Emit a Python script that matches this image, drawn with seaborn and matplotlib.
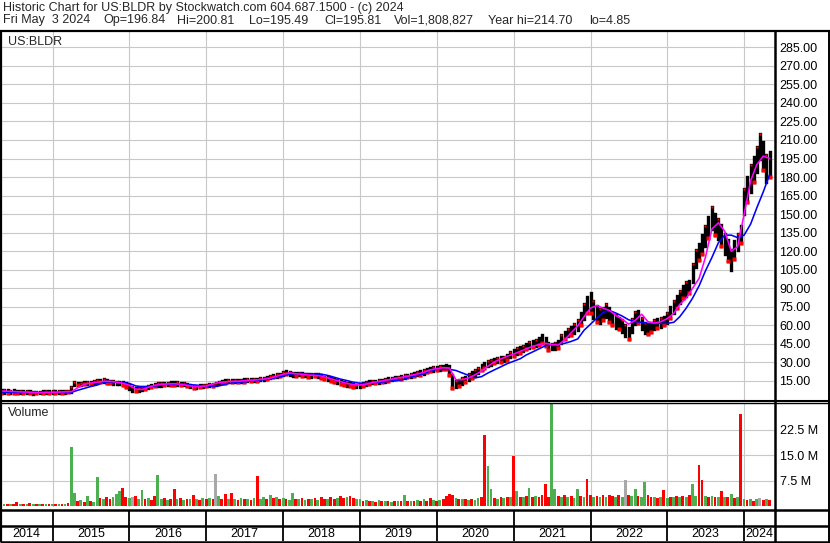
import numpy as np
import pandas as pd
import matplotlib
matplotlib.use("Agg")
import matplotlib.pyplot as plt
from matplotlib.lines import Line2D
import seaborn as sns

# ---------------- data ----------------
# semi-monthly price ranges (1st and 15th of each month, May 2014 .. May 2024)
lo_2014 = [5.6,5.5,5.6,5.4,5.5,5.3,5.2,5.1,5.0,4.9,4.85,4.9,5.0,5.1,5.1,5.2]
hi_2014 = [7.6,7.5,7.3,7.2,7.4,7.1,6.9,6.8,6.7,6.5,6.3,6.2,6.3,6.6,6.6,6.7]
lo_2015 = [5.3,5.4,5.4,5.5,5.6,5.7,6.0,11.5,11.8,12.0,12.2,12.5,12.8,13.0,13.6,14.0,14.3,13.5,13.0,12.8,12.8,12.5,11.5,10.0]
hi_2015 = [6.7,6.8,6.9,6.9,7.1,7.2,10.0,14.2,13.6,13.5,13.8,14.0,14.5,15.0,15.5,16.0,16.5,15.8,15.0,14.6,14.5,14.3,14.0,13.0]
lo_2016 = [8.5,7.2,6.5,6.8,7.5,8.5,9.0,10.0,10.8,11.2,11.3,11.5,11.6,11.8,12.0,12.0,11.8,11.5,10.8,9.8,9.5,9.6,10.0,10.3]
hi_2016 = [11.5,10.0,9.0,9.0,9.8,10.5,11.0,11.8,12.5,13.0,13.2,13.3,13.5,13.8,14.0,13.8,13.5,13.2,12.5,11.5,11.2,11.3,11.6,11.8]
lo_2017 = [10.6,10.8,11.0,11.5,12.5,13.2,13.6,13.8,14.0,14.2,14.0,14.3,14.5,14.6,14.8,15.0,15.2,15.5,16.0,16.8,17.5,18.0,18.5,19.0]
hi_2017 = [12.0,12.2,12.5,13.5,14.5,15.2,15.6,15.8,15.8,15.9,15.8,16.0,16.2,16.3,16.5,16.6,16.8,17.2,17.8,18.6,19.4,20.0,20.5,21.0]
lo_2018 = [20.0,20.5,19.8,19.2,19.0,19.5,19.2,18.8,18.5,18.5,18.8,18.2,17.0,16.5,15.8,15.0,14.2,13.5,12.5,11.8,11.2,10.6,10.2,9.8]
hi_2018 = [22.5,23.0,22.3,21.6,21.2,21.5,21.2,20.8,20.5,20.6,20.8,20.3,19.5,18.5,18.0,17.2,16.5,15.8,14.8,14.0,13.5,13.0,12.5,12.0]
lo_2019 = [10.2,11.0,12.0,12.5,13.0,13.2,13.6,14.0,14.5,15.2,15.8,16.2,16.5,16.8,17.5,18.0,18.6,19.0,19.5,20.2,21.0,22.0,22.8,23.3]
hi_2019 = [12.6,13.5,14.5,14.8,15.0,15.3,15.7,16.0,16.5,17.2,17.8,18.2,18.5,19.0,19.6,20.2,21.0,21.5,22.0,22.8,24.0,25.0,25.5,26.0]
lo_2020 = [23.5,24.0,24.5,25.0,20.0,9.5,10.0,11.0,12.5,14.0,16.0,17.5,19.0,21.5,24.0,25.5,27.0,28.0,29.5,30.0,30.5,31.0,32.0,34.0]
hi_2020 = [26.5,27.0,27.5,28.0,27.5,20.0,15.0,16.0,17.0,18.5,20.5,22.0,23.5,25.5,28.0,29.5,31.0,32.0,33.0,33.5,34.0,34.5,36.0,38.5]
lo_2021 = [35.5,37.0,38.0,39.0,40.5,41.5,42.5,43.5,44.5,45.5,43.0,40.0,40.5,41.0,42.0,46.0,49.0,51.0,52.5,54.0,56.0,60.0,65.0,70.0]
hi_2021 = [40.0,41.5,42.5,43.5,45.0,46.5,47.5,48.5,50.0,52.0,50.0,45.5,45.0,45.5,47.5,52.0,55.0,57.0,59.0,61.0,64.0,70.0,77.0,83.0]
lo_2022 = [70,66,63,62,64,67,63,60,58,57,55,51,49,55,61,62,57,54,53,55,57,58,59,60]
hi_2022 = [86,80,76,73,74,77,74,70,68,66,64,60,58,65,71,72,66,62,60,62,64,65,66,67]
lo_2023 = [62,66,70,74,78,82,84,86,95,107,113,118,124,131,138,133,130,124,118,112,105,114,121,127]
hi_2023 = [70,75,80,84,88,92,95,96,110,121,126,133,140,148,156,150,146,141,134,129,121,128,134,140]
lo_2024 = [150,160,168,176,184,195,186,176,180]
hi_2024 = [170,180,190,196,204,214.7,208,198,200]

price_lo = (lo_2014 + lo_2015 + lo_2016 + lo_2017 + lo_2018 + lo_2019
            + lo_2020 + lo_2021 + lo_2022 + lo_2023 + lo_2024)
price_hi = (hi_2014 + hi_2015 + hi_2016 + hi_2017 + hi_2018 + hi_2019
            + hi_2020 + hi_2021 + hi_2022 + hi_2023 + hi_2024)

# monthly moving-average lines (magenta = short, blue = long), May 2014 .. May 2024
ma_fast = [6.8,6.7,6.5,6.2,6.0,5.7,5.5,5.6,5.8,6.0,6.2,6.4,
           9.5,12.3,13.3,14.0,14.8,14.8,14.0,13.2,11.5,8.5,8.0,10.0,
           11.5,12.3,12.6,12.8,12.3,11.5,10.6,10.6,11.0,12.5,13.8,14.3,
           14.6,14.8,15.2,15.6,16.0,16.5,17.3,18.8,20.5,21.5,20.8,20.5,
           19.8,19.5,19.0,17.5,16.0,14.5,13.0,12.0,11.7,12.5,13.7,14.5,
           15.5,16.5,17.5,18.4,19.5,20.7,22.0,24.0,25.0,25.8,25.5,16.0,
           16.0,17.5,20.0,23.0,27.0,30.5,32.8,35.0,36.8,39.0,41.0,43.0,
           44.5,45.5,44.5,44.0,48.5,54.0,59.5,67.0,74.0,76.0,74.0,72.0,
           68.0,65.0,61.0,64.0,69.0,63.0,61.8,63.0,65.5,69.7,77.0,82.0,
           90.0,98.0,115.0,138.0,143.0,136.0,120.0,123.6,150.0,177.0,190.0,197.0,195.0]
ma_slow = [6.0,5.9,5.8,5.7,5.6,5.5,5.5,5.5,5.5,5.6,5.7,5.8,
           7.5,9.0,10.5,11.7,14.0,14.3,14.0,13.8,13.0,11.0,10.4,10.4,
           10.8,11.8,12.3,12.3,12.3,12.2,11.8,11.3,11.0,10.9,11.0,12.3,
           13.5,14.0,14.3,15.0,15.6,16.0,16.8,17.8,19.0,20.5,21.0,21.0,
           20.8,20.6,20.5,19.5,18.0,16.5,15.3,14.0,13.2,13.0,13.3,13.8,
           14.4,15.0,15.5,16.5,18.4,19.5,21.0,23.0,24.4,24.4,24.4,23.5,
           21.5,19.5,17.5,18.5,21.5,24.0,26.5,29.0,31.0,33.0,36.0,38.5,
           41.0,43.5,44.5,45.0,45.5,47.0,49.0,56.0,61.0,66.0,70.5,72.0,
           70.0,67.5,64.5,63.0,62.5,61.6,61.6,61.6,61.6,62.5,67.0,74.0,
           82.0,92.0,104.0,115.0,127.0,133.0,133.0,131.0,133.0,142.0,155.0,168.0,182.0]

# semi-monthly volume (millions) and bar direction (r = down, g = up, x = unchanged)
vol_2014 = [0.6,0.5,0.7,0.5,0.6,1.2,0.5,0.6,0.7,0.9,0.6,0.7,0.5,0.6,0.5,0.6]
vol_2015 = [0.5,0.6,0.5,0.7,0.6,0.9,17.4,4.0,1.5,1.8,1.2,3.0,1.5,1.3,8.7,2.5,2.0,2.8,2.2,2.6,3.5,4.4,5.2,2.8]
vol_2016 = [2.5,2.6,3.0,2.2,4.7,2.0,2.5,1.8,2.9,9.2,2.0,2.5,1.8,2.2,5.1,2.0,2.4,1.8,2.0,2.2,3.3,2.0,1.8,2.4]
vol_2017 = [2.0,2.5,2.2,9.5,3.0,2.0,3.5,2.2,4.0,2.0,1.8,2.4,2.0,2.2,1.8,2.5,9.0,2.2,2.8,2.0,3.2,2.5,2.8,2.2]
vol_2018 = [2.5,2.0,1.8,4.0,2.2,2.0,2.5,1.8,2.2,2.0,2.4,1.8,2.6,2.2,2.0,2.8,2.2,2.5,3.0,2.4,2.8,3.0,2.5,2.2]
vol_2019 = [2.0,1.5,1.8,1.4,1.6,1.3,1.8,1.5,1.4,1.6,1.3,1.5,1.4,1.6,3.2,1.4,1.6,1.5,1.8,1.5,2.0,1.6,2.5,1.8]
vol_2020 = [1.6,1.8,2.0,3.0,3.5,3.2,2.5,2.2,2.0,2.2,1.8,2.0,1.8,2.4,2.6,20.9,11.7,5.1,2.5,2.2,2.8,2.4,2.6,2.8]
vol_2021 = [14.8,4.5,2.6,2.8,3.0,5.4,2.8,3.0,2.6,3.2,6.4,2.8,30.0,5.0,3.0,2.8,3.2,2.6,3.0,2.4,5.0,3.0,2.8,8.1]
vol_2022 = [3.4,2.8,3.0,2.6,3.2,2.8,3.4,3.0,2.6,3.2,2.8,7.6,3.4,3.0,5.1,3.0,2.8,7.0,3.2,2.6,2.8,2.4,2.6,4.6]
vol_2023 = [2.4,2.8,2.6,3.0,2.8,3.0,2.6,3.2,6.4,3.0,12.2,7.8,3.0,2.6,3.0,2.8,2.6,4.5,2.8,2.6,3.5,2.4,2.6,27.2]
vol_2024 = [2.2,1.8,2.0,1.6,2.2,2.3,1.8,2.0,1.8]
volume = (vol_2014 + vol_2015 + vol_2016 + vol_2017 + vol_2018 + vol_2019
          + vol_2020 + vol_2021 + vol_2022 + vol_2023 + vol_2024)
vol_dir = ("rgrgrrgrgrgrgrgr"
           "grgrgrggrgrgrggrgrrgggrr"
           "gxrggrgrrggrgrrgrgrgrgrg"
           "rgrxgrrgrgrgrgrgrggrgrgr"
           "grggrgrgrgrgrrgrrgrrgrrg"
           "grgrgrgrgrgrgrgrgrgrgrrg"
           "rgrrrrgrgrgrggrrggrgrgrg"
           "rgrgrgrgrrrrggrgrgrggrgr"
           "rgrgrgrrgrgxrggrggrrgrgr"
           "grgrgrgrggrrgrgrgrgrgrgr"
           "grgrgxrgr")

year_labels = ["2014", "2015", "2016", "2017", "2018", "2019",
               "2020", "2021", "2022", "2023", "2024"]
price_ticks = list(range(15, 286, 15))
vol_ticks = [7.5, 15.0, 22.5]

header1 = "Historic Chart for US:BLDR by Stockwatch.com 604.687.1500 - (c) 2024"
header2_parts = ["Fri May  3 2024", "Op=196.84", "Hi=200.81", "Lo=195.49",
                 "Cl=195.81", "Vol=1,808,827", "Year hi=214.70", "lo=4.85"]
header2_x = [3, 103, 177, 249, 324, 394, 488, 589]

# ---------------- figure ----------------
W, H = 830, 543
sns.set_theme(style="white")
plt.rcParams['font.family'] = ['Liberation Sans', 'DejaVu Sans']
FS = 9.0

fig = plt.figure(figsize=(W / 100, H / 100), dpi=100)
fig.patch.set_facecolor("white")


def ax_px(x0, y0, x1, y1):
    return fig.add_axes([x0 / W, 1 - y1 / H, (x1 - x0) / W, (y1 - y0) / H])


def fline(x0, y0, x1, y1, lw=1.5):
    fig.add_artist(Line2D([x0 / W, x1 / W], [1 - y0 / H, 1 - y1 / H],
                          transform=fig.transFigure, color="black", lw=lw,
                          solid_capstyle="butt"))


half = pd.date_range("2014-05-01", periods=len(price_lo), freq="SMS")
month = pd.date_range("2014-05-01", periods=len(ma_fast), freq="MS")
xmin, xmax = pd.Timestamp("2014-05-01"), pd.Timestamp("2024-05-22")
year_starts = [pd.Timestamp(f"{y}-01-01") for y in range(2015, 2025)]
GRID = "#c8c8c8"

df_p = pd.DataFrame({"date": half, "lo": price_lo, "hi": price_hi,
                     "vol": volume, "dir": list(vol_dir)})
df_ma = pd.DataFrame({"date": month, "fast": ma_fast, "slow": ma_slow})

# ---- price panel ----
axp = ax_px(1, 31, 774, 400)
axp.set_xlim(xmin, xmax)
axp.set_ylim(-0.4, 298.2)
axp.set_xticks(year_starts)
axp.set_yticks(price_ticks)
axp.grid(True, color=GRID, lw=0.8)
axp.set_axisbelow(True)
axp.tick_params(axis="x", length=0, labelbottom=False)
axp.yaxis.tick_right()
axp.tick_params(axis="y", length=0, pad=4, labelsize=FS, labelcolor="black")
axp.set_yticklabels([f"{v:.2f}" for v in price_ticks])
for s in axp.spines.values():
    s.set_visible(False)

bars = axp.vlines(df_p["date"], df_p["lo"], df_p["hi"], color="black", lw=2.4, zorder=3)
bars.set_capstyle("projecting")
down = df_p[df_p["dir"] == "r"]
axp.plot(down["date"], down["lo"], ls="none", marker="s", ms=2.2,
         color="#ff0000", mec="none", zorder=4)
up = df_p[df_p["dir"] != "r"]
axp.plot(up["date"], up["hi"], ls="none", marker="s", ms=1.6,
         color="#ff0000", mec="none", zorder=4)
sns.lineplot(data=df_ma, x="date", y="slow", color="#0000ff", lw=1.15, ax=axp, zorder=5)
sns.lineplot(data=df_ma, x="date", y="fast", color="#ff00ff", lw=1.15, ax=axp, zorder=6)
axp.set_xlabel("")
axp.set_ylabel("")
axp.set_xlim(xmin, xmax)

# ---- volume panel ----
axv = ax_px(1, 403, 774, 507)
axv.set_xlim(xmin, xmax)
axv.set_ylim(-0.25, 30.3)
axv.set_xticks(year_starts)
axv.set_yticks(vol_ticks)
axv.grid(True, color=GRID, lw=0.8)
axv.set_axisbelow(True)
axv.tick_params(axis="x", length=0, labelbottom=False)
axv.yaxis.tick_right()
axv.tick_params(axis="y", length=0, pad=4, labelsize=FS, labelcolor="black")
axv.set_yticklabels([f"{v:.1f} M" for v in vol_ticks])
for s in axv.spines.values():
    s.set_visible(False)
cmap = {"r": "#ff0000", "g": "#4caf50", "x": "#a8a8a8"}
axv.bar(df_p["date"], df_p["vol"], width=13,
        color=[cmap[c] for c in df_p["dir"]], linewidth=0, zorder=3)

# ---- date row ----
axd = ax_px(1, 510, 774, 541)
axd.set_xlim(xmin, xmax)
axd.set_ylim(0, 1)
axd.axis("off")
bounds = [xmin] + year_starts + [xmax]
for i, lab in enumerate(year_labels):
    mid = bounds[i] + (bounds[i + 1] - bounds[i]) / 2
    axd.text(mid, 0.24, lab, ha="center", va="center", fontsize=FS, color="black")
for ys in year_starts:
    axd.plot([ys, ys], [0, 1], color="black", lw=1.3, solid_capstyle="butt")

# ---- frame lines ----
fline(0, 30.5, 830, 30.5, lw=1.6)
fline(0, 400.5, 830, 400.5, lw=1.5)
fline(0, 403.2, 830, 403.2, lw=1.0)
fline(0, 509.8, 830, 509.8, lw=1.8)
fline(0, 526.2, 830, 526.2, lw=1.8)
fline(0, 541.5, 830, 541.5, lw=1.8)
fline(1, 30, 1, 542, lw=1.6)
fline(774.5, 30, 774.5, 542, lw=1.8)
fline(828.8, 30, 828.8, 542, lw=1.4)

# ---- texts ----
fig.text(3 / W, 1 - 8 / H, header1, fontsize=FS, va="center", ha="left")
for xp, part in zip(header2_x, header2_parts):
    fig.text(xp / W, 1 - 20.5 / H, part, fontsize=FS, va="center", ha="left")
fig.text(8 / W, 1 - 42 / H, "US:BLDR", fontsize=FS, va="center", ha="left")
fig.text(8 / W, 1 - 413 / H, "Volume", fontsize=FS, va="center", ha="left")

fig.savefig("out.png", dpi=100, facecolor="white")
